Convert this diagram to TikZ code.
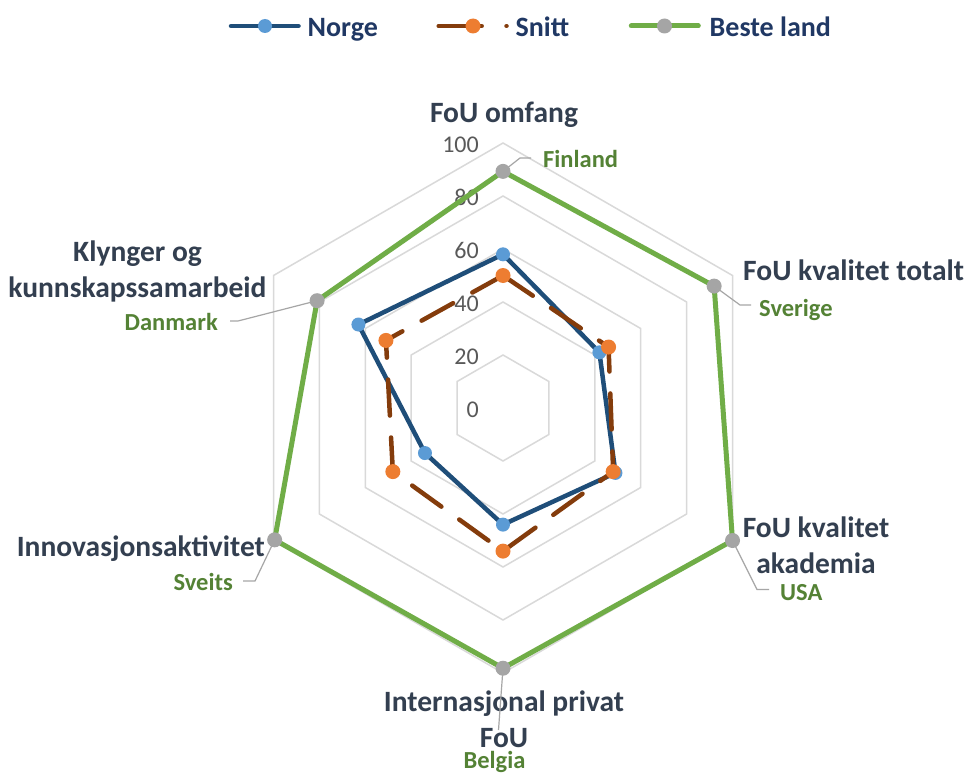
\documentclass[tikz,border=0pt]{standalone}
\usepackage{fontspec}
\setmainfont{Carlito}
\definecolor{norgeline}{HTML}{1F4E79}
\definecolor{norgemark}{HTML}{5B9BD5}
\definecolor{snittline}{HTML}{843C0C}
\definecolor{snittmark}{HTML}{ED7D31}
\definecolor{besteline}{HTML}{70AD47}
\definecolor{bestemark}{HTML}{A5A5A5}
\definecolor{gridc}{HTML}{D9D9D9}
\definecolor{cattext}{HTML}{333F50}
\definecolor{legtext}{HTML}{203864}
\definecolor{datatext}{HTML}{548235}
\definecolor{axtext}{HTML}{595959}
\definecolor{leaderc}{HTML}{A6A6A6}
\begin{document}
\begin{tikzpicture}[x=1pt,y=-1pt,
  gridline/.style={draw=gridc,line width=1.5pt,line join=miter},
  cat/.style={text=cattext,font=\fontsize{29.5}{35.5}\selectfont\bfseries,inner sep=0pt,align=center},
  leg/.style={text=legtext,font=\fontsize{28}{32}\selectfont\bfseries,inner sep=0pt,anchor=base west},
  dlabel/.style={text=datatext,font=\fontsize{24.5}{28}\selectfont\bfseries,inner sep=0pt},
  axnum/.style={text=axtext,font=\fontsize{24}{28}\selectfont,inner sep=0pt,anchor=base east},
  leader/.style={draw=leaderc,line width=1.2pt},
  norgeln/.style={draw=norgeline,line width=4.5pt,line join=round},
  snittln/.style={draw=snittline,line width=4.5pt,line cap=round,dash pattern=on 36pt off 22pt},
  besteln/.style={draw=besteline,line width=5pt,line join=miter},
  nmark/.style={circle,fill=norgemark,minimum size=14pt,inner sep=0pt},
  smark/.style={circle,fill=snittmark,minimum size=15pt,inner sep=0pt},
  bmark/.style={circle,fill=bestemark,minimum size=15pt,inner sep=0pt}]
\useasboundingbox[fill=white] (0,0) rectangle (977,776);
\coordinate (O) at (503,408);
\begin{scope}[shift={(503,408)}]
  % grid rings
  \foreach \v in {20,40,60,80,100}
    \draw[gridline] (-90:{2.65*\v}) -- (-30:{2.65*\v}) -- (30:{2.65*\v}) -- (90:{2.65*\v}) -- (150:{2.65*\v}) -- (210:{2.65*\v}) -- cycle;
  % data coordinates
  \coordinate (n1) at (-90:{2.65*58});
  \coordinate (n2) at (-30:{2.65*42});
  \coordinate (n3) at (30:{2.65*49});
  \coordinate (n4) at (90:{2.65*44});
  \coordinate (n5) at (150:{2.65*34});
  \coordinate (n6) at (210:{2.65*63});
  \coordinate (s1) at (-90:{2.65*50});
  \coordinate (s2) at (-30:{2.65*46});
  \coordinate (s3) at (30:{2.65*48});
  \coordinate (s4) at (90:{2.65*54});
  \coordinate (s5) at (150:{2.65*48});
  \coordinate (s6) at (210:{2.65*51});
  \coordinate (b1) at (-90:{2.65*89.3});
  \coordinate (b2) at (-30:{2.65*92});
  \coordinate (b3) at (30:{2.65*100});
  \coordinate (b4) at (90:{2.65*98.2});
  \coordinate (b5) at (150:{2.65*99.5});
  \coordinate (b6) at (210:{2.65*81});
\end{scope}
% axis numbers
\node[axnum] (a100) at (479,{408-2.65*100+9}) {100};
\node[axnum] (a80) at (479,{408-2.65*80+9}) {80};
\node[axnum] (a60) at (479,{408-2.65*60+9}) {60};
\node[axnum] (a40) at (479,{408-2.65*40+9}) {40};
\node[axnum] (a20) at (479,{408-2.65*20+9}) {20};
\node[axnum] (a0) at (479,{408+9}) {0};
% series
\draw[norgeln] (n1) -- (n2) -- (n3) -- (n4) -- (n5) -- (n6) -- cycle;
\foreach \p in {n1,n2,n3,n4,n5,n6} \node[nmark] at (\p) {};
\draw[snittln] (s1) -- (s2) -- (s3) -- (s4) -- (s5) -- (s6) -- cycle;
\foreach \p in {s1,s2,s3,s4,s5,s6} \node[smark] at (\p) {};
\draw[besteln] (b1) -- (b2) -- (b3) -- (b4) -- (b5) -- (b6) -- cycle;
\foreach \p in {b1,b2,b3,b4,b5,b6} \node[bmark] at (\p) {};
% category labels (base anchor = last line baseline)
\node[cat,anchor=base] (c1) at (504,122) {FoU omfang};
\node[cat,anchor=base west] (c2) at (743,280) {FoU kvalitet totalt};
\node[cat,anchor=base] (c3) at (816,573) {FoU kvalitet\\akademia};
\node[cat,anchor=base] (c4) at (504,747) {Internasjonal privat\\FoU};
\node[cat,anchor=base east] (c5) at (265,556) {Innovasjonsaktivitet};
\node[cat,anchor=base] (c6) at (137.5,297) {Klynger og\\kunnskapssamarbeid};
% data labels with leaders
\node[dlabel,anchor=base west] (d1) at (543,167) {Finland};
\node[dlabel,anchor=base west] (d2) at (759,316.5) {Sverige};
\node[dlabel,anchor=base west] (d3) at (780,600) {USA};
\node[dlabel,anchor=base] (d4) at (494.5,768.5) {Belgia};
\node[dlabel,anchor=base east] (d5) at (233,590.5) {Sveits};
\node[dlabel,anchor=base east] (d6) at (218,330.5) {Danmark};
\coordinate (l1) at (520,158);
\coordinate (l1e) at (531,158);
\draw[leader] (b1) -- (l1) -- (l1e);
\coordinate (l2) at (740,305);
\coordinate (l2e) at (751,305);
\draw[leader] (b2) -- (l2) -- (l2e);
\coordinate (l3) at (757,589.5);
\coordinate (l3e) at (769,589.5);
\draw[leader] (b3) -- (l3) -- (l3e);
\coordinate (l4) at (498.5,730);
\draw[leader] (b4) -- (l4);
\coordinate (l5) at (255,581);
\coordinate (l5e) at (243,581);
\draw[leader] (b5) -- (l5) -- (l5e);
\coordinate (l6) at (238,321);
\coordinate (l6e) at (230,321);
\draw[leader] (b6) -- (l6) -- (l6e);
% legend
\coordinate (ln1) at (231,26);
\coordinate (ln1e) at (298.5,26);
\draw[norgeln,line cap=round] (ln1) -- (ln1e);
\node[nmark] (lm1) at (265,26) {};
\node[leg] (lt1) at (307.5,37) {Norge};
\coordinate (ln2) at (438.7,26);
\coordinate (ln2e) at (506.5,26);
\draw[snittln,dash pattern=on 43pt off 24.8pt] (ln2) -- (ln2e);
\node[smark] (lm2) at (473,26) {};
\node[leg] (lt2) at (515.5,37) {Snitt};
\coordinate (ln3) at (631.3,26);
\coordinate (ln3e) at (698.3,26);
\draw[besteln,line cap=round] (ln3) -- (ln3e);
\node[bmark] (lm3) at (664.5,26) {};
\node[leg] (lt3) at (709.5,37) {Beste land};
\end{tikzpicture}
\end{document}
